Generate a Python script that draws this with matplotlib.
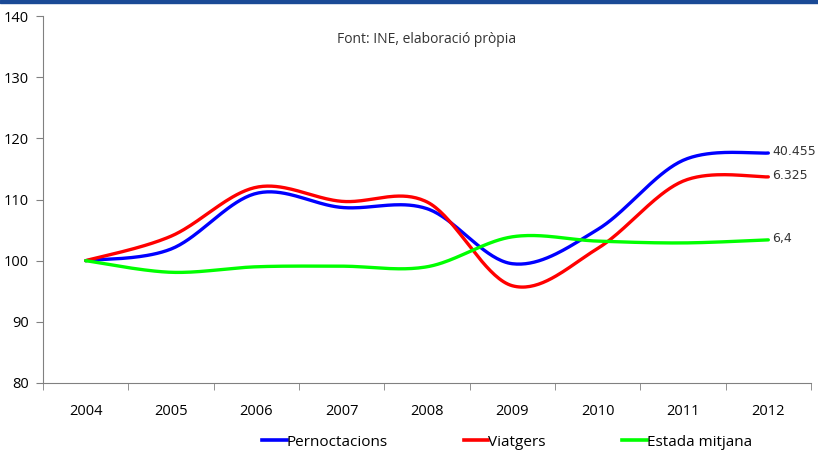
import numpy as np
import matplotlib
matplotlib.use("Agg")
import matplotlib.pyplot as plt
from matplotlib.lines import Line2D

# dades llegides del gràfic (índex 2004 = 100)
anys = ["2004", "2005", "2006", "2007", "2008", "2009", "2010", "2011", "2012"]
pernoctacions = [100, 101.9, 111.0, 108.7, 108.5, 99.5, 105.1, 116.4, 117.6]
viatgers = [100, 104.0, 112.0, 109.7, 109.6, 95.9, 102.0, 113.0, 113.7]
estada = [100, 98.1, 99.0, 99.1, 99.0, 103.9, 103.2, 102.9, 103.4]
etiquetes_final = ["40.455", "6.325", "6,4"]

plt.rcParams['font.family'] = ['Open Sans', 'DejaVu Sans']


def suavitzar(y, n=40):
    # corba tipus Excel (Catmull-Rom) entre els punts
    y = np.asarray(y, dtype=float)
    x = np.arange(len(y), dtype=float)
    px = np.concatenate([[x[0]], x, [x[-1]]])
    py = np.concatenate([[y[0]], y, [y[-1]]])
    xs, ys = [], []
    t = np.linspace(0, 1, n)
    for i in range(1, len(px) - 2):
        p0, p1, p2, p3 = py[i - 1], py[i], py[i + 1], py[i + 2]
        q0, q1, q2, q3 = px[i - 1], px[i], px[i + 1], px[i + 2]
        # bezier amb punts de control a 1/6
        b1y, b2y = p1 + (p2 - p0) / 6, p2 - (p3 - p1) / 6
        b1x, b2x = q1 + (q2 - q0) / 6, q2 - (q3 - q1) / 6
        xs.append((1-t)**3*q1 + 3*(1-t)**2*t*b1x + 3*(1-t)*t**2*b2x + t**3*q2)
        ys.append((1-t)**3*p1 + 3*(1-t)**2*t*b1y + 3*(1-t)*t**2*b2y + t**3*p2)
    return np.concatenate(xs), np.concatenate(ys)


fig = plt.figure(figsize=(8.18, 4.54), dpi=100)
ax = fig.add_axes([43/818, 1-383/454, (811-43)/818, (383-16)/454])

# franja blava superior
fig.patches.append(plt.Rectangle((0, 1-3/454), 1, 3/454, transform=fig.transFigure,
                                 color='#1A4A96', zorder=10))

series = [(pernoctacions, '#0000FF'), (viatgers, '#FF0000'), (estada, '#00FF00')]
for (vals, col), lab in zip(series, etiquetes_final):
    xs, ys = suavitzar(vals)
    ax.plot(xs, ys, color=col, lw=2.4, solid_capstyle='round')
    ax.text(len(vals) - 1 + 0.05, vals[-1] + 0.3, lab, fontsize=9, color='#333333',
            va='center', ha='left', family='DejaVu Sans')

ax.set_ylim(80, 140)
ax.set_yticks(range(80, 141, 10))
ax.set_xlim(-0.5, 8.5)
ax.set_xticks(range(len(anys)))
ax.set_xticklabels(anys)
ax.set_xticks(np.arange(-0.5, 9, 1), minor=True)
ax.tick_params(axis='x', which='major', length=0, pad=15, labelsize=10.5)
ax.tick_params(axis='x', which='minor', length=5, color='#808080')
ax.tick_params(axis='y', length=5, color='#808080', labelsize=10.5, pad=5)

for s in ['top', 'right']:
    ax.spines[s].set_visible(False)
for s in ['left', 'bottom']:
    ax.spines[s].set_color('#808080')
ax.spines['bottom'].set_zorder(0)

ax.text(0.5, 0.935, "Font: INE, elaboració pròpia", transform=ax.transAxes,
        ha='center', va='center', fontsize=10, color='#333333')

handles = [Line2D([], [], color=c, lw=2.6) for _, c in series]
fig.legend(handles, ["Pernoctacions", "Viatgers", "Estada mitjana"], ncol=3,
           loc='center', bbox_to_anchor=(507/818, 1-442/454), frameon=False,
           handlelength=1.6, handletextpad=0.0, columnspacing=5.0, fontsize=11)

fig.savefig("out.png", dpi=100)
